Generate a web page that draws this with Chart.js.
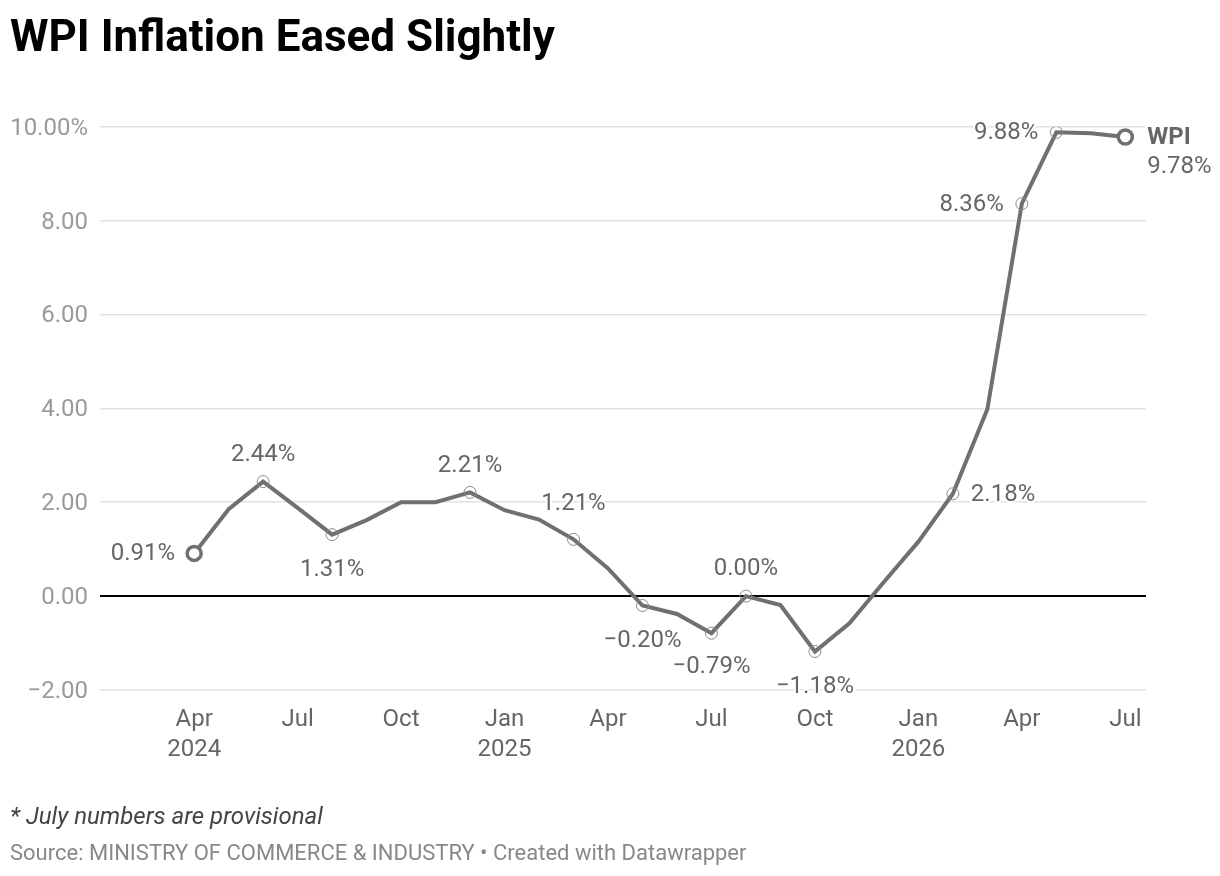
<!DOCTYPE html>
<html>
<head>
<meta charset="utf-8">
<title>WPI Inflation Eased Slightly</title>
<script src="https://cdn.jsdelivr.net/npm/chart.js@4.4.1/dist/chart.umd.min.js"></script>
<style>
  html, body { margin: 0; padding: 0; background: #fff; }
  body { width: 1220px; height: 876px; position: relative; overflow: hidden; font-family: Roboto, sans-serif; }
  #wrap { position: absolute; left: 0; top: 0; width: 1220px; height: 876px; }
  #title { position: absolute; left: 10px; top: 10px; font-size: 44px; line-height: 52px; font-weight: 700; color: #000; z-index: 2; }
  #note { position: absolute; left: 10px; top: 801px; font-size: 24px; line-height: 30px; font-style: italic; color: #444; }
  #source { position: absolute; left: 10px; top: 838px; font-size: 22px; line-height: 30px; color: #888; }
</style>
</head>
<body>
<div id="title">WPI Inflation Eased Slightly</div>
<div id="wrap"><canvas id="wpichart"></canvas></div>
<div id="note">* July numbers are provisional</div>
<div id="source">Source: MINISTRY OF COMMERCE &amp; INDUSTRY • Created with Datawrapper</div>
<script>
// monthly WPI inflation, Apr 2024 .. Jul 2026 (%)
const months = [
  "Apr 2024", "May 2024", "Jun 2024", "Jul 2024", "Aug 2024", "Sep 2024", "Oct 2024", "Nov 2024", "Dec 2024",
  "Jan 2025", "Feb 2025", "Mar 2025", "Apr 2025", "May 2025", "Jun 2025", "Jul 2025", "Aug 2025", "Sep 2025",
  "Oct 2025", "Nov 2025", "Dec 2025", "Jan 2026", "Feb 2026", "Mar 2026", "Apr 2026", "May 2026", "Jun 2026", "Jul 2026"
];
const wpi = [
  0.91, 1.85, 2.44, 1.88, 1.31, 1.62, 2.00, 2.00, 2.21,
  1.83, 1.63, 1.21, 0.59, -0.20, -0.38, -0.79, 0.00, -0.19,
  -1.18, -0.58, 0.30, 1.16, 2.18, 3.98, 8.36, 9.88, 9.86, 9.78
];
// months that get a value label
const labelled = [0, 2, 4, 8, 11, 13, 15, 16, 18, 22, 24, 25, 27];

const xTickIdx = [0, 3, 6, 9, 12, 15, 18, 21, 24, 27];
const xTickLabels = [["Apr", "2024"], "Jul", "Oct", ["Jan", "2025"], "Apr", "Jul", "Oct", ["Jan", "2026"], "Apr", "Jul"];
const yTicks = [-2, 0, 2, 4, 6, 8, 10];
const yTickLabels = ["\u22122.00", "0.00", "2.00", "4.00", "6.00", "8.00", "10.00%"];

const seriesName = "WPI";
const lineColor = "#707070";

function fmt(v) {
  return (v < 0 ? "\u2212" : "") + Math.abs(v).toFixed(2) + "%";
}

// where each value label sits relative to its point: [align, dx, dy]
const place = {
  0: ["right", -19, 1],
  2: ["center", 0, -27],
  4: ["center", 0, 35],
  8: ["center", 0, -26],
  11: ["center", 0, -35],
  13: ["center", 0, 35],
  15: ["center", 0, 34],
  16: ["center", 0, -27],
  18: ["center", 0, 35],
  22: ["left", 18, 1],
  24: ["right", -18, 1],
  25: ["right", -18, 1]
};

const valueLabels = {
  id: "valueLabels",
  afterDatasetsDraw(chart) {
    const ctx = chart.ctx;
    const pts = chart.getDatasetMeta(0).data;
    ctx.save();
    ctx.textBaseline = "middle";
    ctx.lineJoin = "round";
    ctx.strokeStyle = "#fff";
    ctx.lineWidth = 4;
    labelled.forEach(function (i) {
      const p = pts[i];
      if (i === wpi.length - 1) {
        ctx.textAlign = "left";
        ctx.font = "700 24px Roboto";
        ctx.fillStyle = "#666";
        ctx.strokeText(seriesName, p.x + 22, p.y + 1);
        ctx.fillText(seriesName, p.x + 22, p.y + 1);
        ctx.font = "24px Roboto";
        ctx.strokeText(fmt(wpi[i]), p.x + 22, p.y + 30);
        ctx.fillText(fmt(wpi[i]), p.x + 22, p.y + 30);
        return;
      }
      const pl = place[i];
      ctx.textAlign = pl[0];
      ctx.font = "24px Roboto";
      ctx.fillStyle = "#666";
      ctx.strokeText(fmt(wpi[i]), p.x + pl[1], p.y + pl[2]);
      ctx.fillText(fmt(wpi[i]), p.x + pl[1], p.y + pl[2]);
    });
    ctx.restore();
  }
};

function isEnd(i) { return i === 0 || i === wpi.length - 1; }

new Chart(document.getElementById("wpichart"), {
  type: "line",
  data: {
    datasets: [{
      label: seriesName,
      data: wpi.map(function (v, i) { return { x: i, y: v }; }),
      borderColor: lineColor,
      borderWidth: 4,
      tension: 0,
      pointRadius: function (c) {
        const i = c.dataIndex;
        if (isEnd(i)) return 7;
        return labelled.indexOf(i) >= 0 ? 6 : 0;
      },
      pointBorderWidth: function (c) { return isEnd(c.dataIndex) ? 3.5 : 1; },
      pointBorderColor: function (c) { return isEnd(c.dataIndex) ? lineColor : "#8a8a8a"; },
      pointBackgroundColor: function (c) { return isEnd(c.dataIndex) ? "#fff" : "rgba(255,255,255,0)"; }
    }]
  },
  options: {
    responsive: true,
    maintainAspectRatio: false,
    animation: false,
    layout: { padding: { top: 126.7, right: 74, bottom: 116, left: 0 } },
    plugins: {
      legend: { display: false },
      tooltip: { enabled: false }
    },
    scales: {
      x: {
        type: "linear",
        min: -2.73,
        max: 27.6,
        afterFit: function (s) { s.height = 70; },
        afterBuildTicks: function (s) { s.ticks = xTickIdx.map(function (v) { return { value: v }; }); },
        grid: { display: false, drawTicks: false },
        border: { display: false },
        ticks: {
          autoSkip: false,
          maxRotation: 0,
          padding: 15,
          color: "#666",
          font: { family: "Roboto", size: 24, lineHeight: 1.25 },
          callback: function (v) {
            const k = xTickIdx.indexOf(v);
            return k >= 0 ? xTickLabels[k] : "";
          }
        }
      },
      y: {
        min: -2,
        max: 10,
        afterFit: function (s) { s.width = 100; },
        afterBuildTicks: function (s) { s.ticks = yTicks.map(function (v) { return { value: v }; }); },
        grid: {
          drawTicks: false,
          color: function (c) { return c.tick && c.tick.value === 0 ? "#000" : "#e2e2e2"; },
          lineWidth: function (c) { return c.tick && c.tick.value === 0 ? 2 : 1.5; }
        },
        border: { display: false },
        ticks: {
          padding: 12,
          labelOffset: 2,
          color: "#9a9a9a",
          font: { family: "Roboto", size: 24 },
          callback: function (v) {
            const k = yTicks.indexOf(v);
            return k >= 0 ? yTickLabels[k] : "";
          }
        }
      }
    }
  },
  plugins: [valueLabels]
});
</script>
</body>
</html>
